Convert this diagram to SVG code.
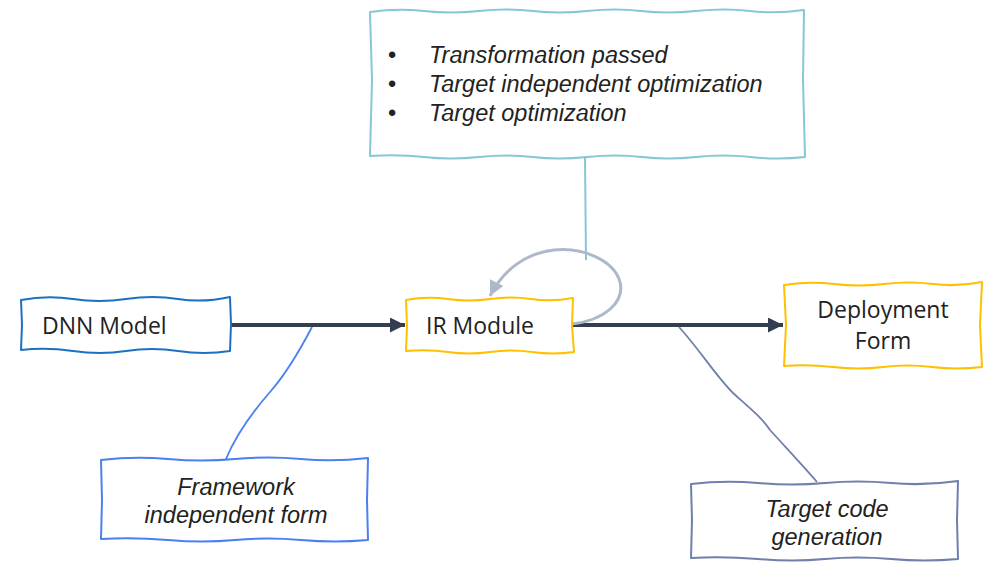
<svg xmlns="http://www.w3.org/2000/svg" width="985" height="562" viewBox="0 0 985 562">
<style>
.box{fill:#fff;stroke-width:2;stroke-linejoin:round}
.lbl{font-family:"Open Sans","Noto Sans",sans-serif;font-size:23px;fill:#222}
.it{font-family:"Liberation Sans",Arial,sans-serif;font-size:23.5px;font-style:italic;fill:#222}
.conn{fill:none}
</style>
<defs>
<marker id="ahDark" markerUnits="userSpaceOnUse" markerWidth="16" markerHeight="16" refX="15" refY="7.5" orient="auto">
<path d="M0,0 L15,7.5 L0,15 z" fill="#333f50"/>
</marker>
<marker id="ahLight" markerUnits="userSpaceOnUse" markerWidth="16" markerHeight="16" refX="15" refY="7.5" orient="auto">
<path d="M0,0 L15,7.5 L0,15 z" fill="#adb9ca"/>
</marker>
</defs>
<rect width="985" height="562" fill="#fff"/>

<g id="connectors">
<path class="conn" d="M585,157 L586,260" stroke="#84c8d4" stroke-width="2"/>
<path class="conn" d="M231,325 L405,325" stroke="#333f50" stroke-width="4" marker-end="url(#ahDark)"/>
<path class="conn" d="M573,325 L783,325" stroke="#333f50" stroke-width="4" marker-end="url(#ahDark)"/>
<path class="conn" d="M572,324 C605,320 625,302 620,282 C614,260 582,247 554,250 C526,253 503,270 490,296" stroke="#adb9ca" stroke-width="3" marker-end="url(#ahLight)"/>
<path class="conn" d="M312,327 C300,350 285,375 270,392 C250,415 236,435 226,459" stroke="#4a80f0" stroke-width="1.8"/>
<path class="conn" d="M679,327 C700,350 715,375 733,393 C752,410 762,418 770,430 C790,452 805,468 817,482" stroke="#6f7fae" stroke-width="1.8"/>
</g>

<g id="opt-note">
<path class="box" stroke="#84c8d4" d="M370,12 Q397,8 424,11 T479,11 T533,11 T587,11 T641,11 T696,11 T750,11 T804,10 L803,80 L805,157 Q778,160 751,157 T696,157 T642,157 T587,157 T533,157 T479,157 T424,157 T370,156 L372,80 Z"/>
<text class="it" x="388" y="63" style="font-style:normal">•</text>
<text class="it" x="388" y="92" style="font-style:normal">•</text>
<text class="it" x="388" y="121" style="font-style:normal">•</text>
<text class="it" x="429" y="63">Transformation passed</text>
<text class="it" x="429" y="92">Target independent optimization</text>
<text class="it" x="429" y="121">Target optimization</text>
</g>

<g id="dnn-model">
<path class="box" stroke="#1c70c4" d="M21,300 Q47,295 73,299 T126,299 T178,299 T230,297 L231,324 L230,351 Q204,355 178,351 T126,351 T73,351 T21,350 L22,325 Z"/>
<text class="lbl" x="42" y="334">DNN Model</text>
</g>

<g id="ir-module">
<path class="box" stroke="#ffc000" d="M406,300 Q427,296 448,299 T490,299 T531,299 T573,298 L572,326 L574,352 Q553,355 532,352 T490,352 T448,352 T406,351 L407,326 Z"/>
<text class="lbl" x="426" y="334">IR Module</text>
</g>

<g id="deployment-form">
<path class="box" stroke="#ffc000" d="M784,285 Q809,281 834,284 T884,284 T933,284 T982,282 L980,325 L982,367 Q957,370 932,367 T883,367 T833,367 T784,366 L786,325 Z"/>
<text class="lbl" x="883" y="318" text-anchor="middle">Deployment</text>
<text class="lbl" x="883" y="349" text-anchor="middle">Form</text>
</g>

<g id="framework-note">
<path class="box" stroke="#4a80f0" d="M101,460 Q134,456 168,459 T235,459 T301,459 T368,458 L367,500 L368,540 Q335,543 301,540 T235,540 T168,540 T101,539 L102,500 Z"/>
<text class="it" x="236" y="495" text-anchor="middle">Framework</text>
<text class="it" x="236" y="523" text-anchor="middle">independent form</text>
</g>

<g id="codegen-note">
<path class="box" stroke="#6f7fae" d="M691,484 Q724,480 758,483 T825,483 T891,483 T958,481 L957,520 L958,559 Q925,562 891,559 T825,559 T758,559 T691,558 L692,520 Z"/>
<text class="it" x="827" y="517" text-anchor="middle">Target code</text>
<text class="it" x="827" y="545" text-anchor="middle">generation</text>
</g>
</svg>
